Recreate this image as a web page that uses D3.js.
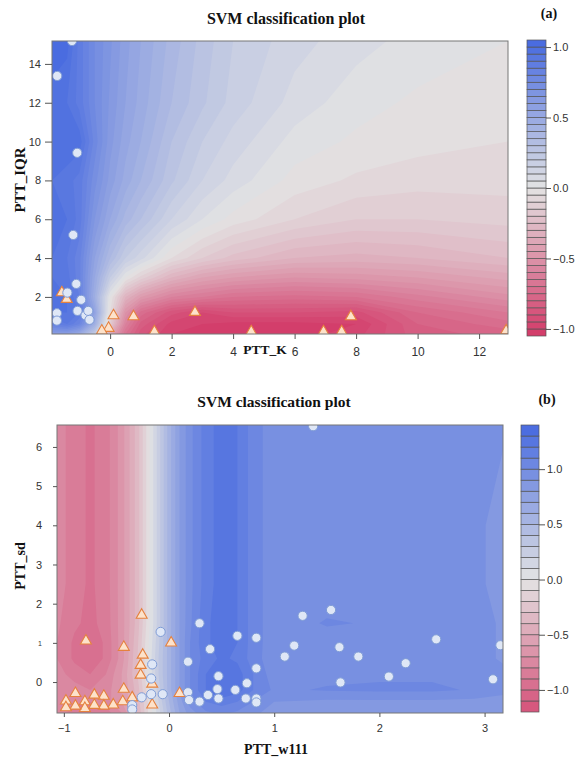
<!DOCTYPE html>
<html>
<head>
<meta charset="utf-8">
<script src="https://cdn.jsdelivr.net/npm/d3@7"></script>
<style>
  body { margin: 0; background: #fff; }
  .tick text { font-family: "Liberation Sans", Arial, sans-serif; font-size: 11px; fill: #333; }
  .tick line { stroke: #555; }
  .lab { font-family: "Liberation Serif", "Times New Roman", serif; font-weight: bold; fill: #111; }
</style>
</head>
<body>
<div id="chart"></div>
<script>
// ---------------- Panel (a): PTT_K vs PTT_IQR ----------------
// grid of decision values (rows go bottom -> top)
var gridXA = [-1.89, -1.4, -1, -0.5, 0, 0.5, 1, 2, 3, 4, 6, 8, 10, 12.94];
var gridYA = [0.09, 0.6, 1.2, 2, 3, 4, 6, 8, 10, 12, 15.18];
var fieldA = [
  [0.60, 0.60, 0.50, 0.20, -0.35, -0.70, -0.88, -1.00, -1.02, -1.03, -1.03, -0.97, -0.82, -0.78],
  [0.85, 0.90, 0.80, 0.45, -0.15, -0.60, -0.82, -0.97, -1.00, -1.02, -1.02, -1.00, -0.80, -0.72],
  [0.95, 0.95, 0.90, 0.55, -0.05, -0.50, -0.72, -0.88, -0.95, -0.90, -0.90, -0.92, -0.75, -0.65],
  [1.00, 0.95, 0.85, 0.45, 0.00, -0.30, -0.45, -0.60, -0.65, -0.70, -0.72, -0.70, -0.62, -0.52],
  [0.95, 0.92, 0.82, 0.50, 0.20, 0.00, -0.12, -0.30, -0.40, -0.45, -0.50, -0.48, -0.45, -0.38],
  [0.95, 0.90, 0.82, 0.55, 0.35, 0.20, 0.12, -0.05, -0.15, -0.22, -0.30, -0.32, -0.30, -0.25],
  [0.98, 0.95, 0.88, 0.65, 0.50, 0.38, 0.30, 0.15, 0.05, -0.02, -0.10, -0.15, -0.15, -0.13],
  [0.95, 0.92, 0.88, 0.72, 0.58, 0.48, 0.40, 0.26, 0.15, 0.08, -0.02, -0.06, -0.08, -0.08],
  [0.95, 1.00, 0.98, 0.78, 0.62, 0.52, 0.45, 0.30, 0.20, 0.13, 0.03, -0.01, -0.03, -0.05],
  [0.98, 0.95, 0.88, 0.75, 0.64, 0.55, 0.48, 0.35, 0.26, 0.18, 0.08, 0.02, -0.01, -0.03],
  [1.03, 1.02, 0.88, 0.75, 0.66, 0.57, 0.50, 0.38, 0.28, 0.20, 0.12, 0.07, 0.03, 0.00]
];
var levelsA = d3.range(-21, 22).map(d => d / 20);
var circleXA = [-1.24, -1.72, -1.07, -1.20, -1.10, -1.39, -0.94, -1.73, -1.73, -1.06, -0.80, -0.71, -0.67];
var circleYA = [15.18, 13.38, 9.42, 5.19, 2.67, 2.22, 1.85, 1.16, 0.78, 1.28, 1.05, 1.28, 0.82];
var triXA = [-1.57, -1.41, 0.11, -0.05, -0.27, 0.76, 1.44, 2.76, 4.59, 6.94, 7.53, 7.83, 12.88];
var triYA = [2.22, 1.88, 1.04, 0.39, 0.25, 0.99, 0.21, 1.21, 0.21, 0.21, 0.21, 0.99, 0.26];
var xTicksA = [0, 2, 4, 6, 8, 10, 12];
var yTicksA = [2, 4, 6, 8, 10, 12, 14];
var barTicks = [-1, -0.5, 0, 0.5, 1];

// ---------------- Panel (b): PTT_w111 vs PTT_sd ----------------
var gridXB = [-1.065, -0.9, -0.75, -0.6, -0.45, -0.3, -0.2, -0.1, 0, 0.1, 0.2, 0.35, 0.5, 0.65, 0.8, 1.0, 1.5, 2.0, 2.5, 2.9, 3.175];
var gridYB = [-0.79, -0.5, -0.2, 0.2, 0.6, 1.0, 1.5, 2.5, 4, 6.56];
var fieldB = [
  [-0.75, -0.85, -0.90, -0.85, -0.70, -0.40, -0.10, 0.15, 0.45, 0.70, 0.85, 0.98, 1.02, 0.98, 0.92, 0.86, 0.85, 0.85, 0.85, 0.85, 0.85],
  [-0.70, -0.75, -0.80, -0.75, -0.60, -0.35, -0.10, 0.20, 0.50, 0.75, 0.95, 1.10, 1.15, 1.10, 1.00, 0.90, 0.88, 0.88, 0.88, 0.87, 0.86],
  [-0.70, -0.75, -0.80, -0.75, -0.60, -0.35, -0.05, 0.25, 0.55, 0.80, 1.00, 1.20, 1.30, 1.25, 1.10, 0.98, 1.01, 1.02, 1.02, 0.99, 0.93],
  [-0.75, -0.85, -0.90, -0.80, -0.60, -0.30, -0.02, 0.30, 0.55, 0.80, 1.00, 1.20, 1.30, 1.25, 1.10, 0.94, 0.97, 0.98, 0.98, 0.96, 0.92],
  [-0.80, -0.92, -0.98, -0.88, -0.65, -0.30, 0.00, 0.30, 0.55, 0.80, 1.00, 1.15, 1.22, 1.18, 1.05, 0.93, 0.93, 0.93, 0.93, 0.93, 0.89],
  [-0.80, -0.92, -0.98, -0.88, -0.65, -0.32, -0.02, 0.28, 0.55, 0.80, 1.00, 1.18, 1.25, 1.20, 1.05, 0.94, 0.95, 0.95, 0.93, 0.93, 0.89],
  [-0.78, -0.88, -0.93, -0.86, -0.65, -0.35, -0.05, 0.25, 0.55, 0.80, 0.98, 1.18, 1.25, 1.20, 1.05, 0.94, 1.01, 0.99, 0.93, 0.93, 0.89],
  [-0.75, -0.85, -0.92, -0.85, -0.65, -0.35, -0.05, 0.25, 0.55, 0.80, 0.97, 1.15, 1.25, 1.20, 1.05, 0.94, 0.93, 0.93, 0.93, 0.92, 0.87],
  [-0.75, -0.85, -0.92, -0.85, -0.65, -0.35, -0.05, 0.25, 0.55, 0.80, 0.97, 1.15, 1.25, 1.20, 1.05, 0.94, 0.93, 0.93, 0.93, 0.92, 0.87],
  [-0.75, -0.85, -0.92, -0.85, -0.65, -0.35, -0.05, 0.25, 0.55, 0.80, 0.97, 1.15, 1.25, 1.20, 1.05, 0.94, 0.93, 0.93, 0.93, 0.93, 0.91]
];
var levelsB = d3.range(-12, 15).map(d => d / 10);
var circleXB = [-0.08, -0.16, -0.17, -0.17, -0.06, -0.26, -0.35, -0.35, 0.29, 0.65, 0.83, 0.39, 0.18, 0.83, 0.47, 0.46, 0.63, 0.74, 0.18, 0.19, 0.29, 0.37, 0.47, 0.73, 0.83, 0.83, 1.10, 1.27, 1.54, 1.19, 1.62, 1.80, 2.25, 2.54, 3.15, 1.63, 2.09, 3.08, 1.37];
var circleYB = [1.28, 0.45, 0.09, -0.31, -0.31, -0.39, -0.59, -0.70, 1.50, 1.18, 1.13, 0.84, 0.52, 0.35, 0.15, -0.18, -0.20, -0.03, -0.26, -0.46, -0.50, -0.33, -0.42, -0.42, -0.42, -0.52, 0.65, 1.69, 1.84, 0.93, 0.89, 0.65, 0.48, 1.09, 0.94, -0.01, 0.14, 0.07, 6.53];
var triXB = [-0.26, -0.79, -0.43, 0.02, -0.25, -0.27, -0.27, -0.16, -0.43, 0.10, -0.35, -0.16, -0.44, -0.53, -0.62, -0.62, -0.71, -0.71, -0.80, -0.80, -0.89, -0.89, -0.98, -0.98];
var triYB = [1.71, 1.05, 0.89, 1.00, 0.69, 0.43, 0.18, -0.05, -0.18, -0.29, -0.40, -0.58, -0.50, -0.58, -0.36, -0.61, -0.33, -0.59, -0.50, -0.67, -0.29, -0.61, -0.48, -0.65];
var xTicksB = [-1, 0, 1, 2, 3];
var yTicksB = [0, 1, 2, 3, 4, 5, 6];

// svg
var svg = d3.select("#chart").append("svg")
  .attr("width", 579)
  .attr("height", 759);

// pink -> grey -> blue ramp used by both panels
var ramp = d3.piecewise(d3.interpolateRgb, ["#d33a68", "#e3e3e3", "#4669e0"]);

function drawPanel(p) {
  var g = svg.append("g");
  var x = d3.scaleLinear().domain([p.gx[0], p.gx[p.gx.length - 1]]).range([p.left, p.right]);
  var y = d3.scaleLinear().domain([p.gy[0], p.gy[p.gy.length - 1]]).range([p.bottom, p.top]);

  // grid index -> data value (non uniform grid)
  var nx = p.gx.length, ny = p.gy.length;
  var ix = d3.scaleLinear().domain(d3.range(nx)).range(p.gx).clamp(true);
  var iy = d3.scaleLinear().domain(d3.range(ny)).range(p.gy).clamp(true);
  var path = d3.geoPath(d3.geoTransform({
    point: function(px, py) { this.stream.point(x(ix(px - 0.5)), y(iy(py - 0.5))); }
  }));

  var lv = p.levels;
  var M = d3.max(lv, d => Math.abs(d));
  var bandColor = i => ramp(((lv[i] + lv[i + 1]) / 2 + M) / (2 * M));

  var contours = d3.contours()
    .size([nx, ny])
    .thresholds(lv.slice(0, -1))(p.field.flat());

  g.append("clipPath").attr("id", "clip" + p.id)
    .append("rect")
    .attr("x", p.left).attr("y", p.top)
    .attr("width", p.right - p.left).attr("height", p.bottom - p.top);

  var plot = g.append("g").attr("clip-path", `url(#clip${p.id})`);
  plot.append("rect")
    .attr("x", p.left).attr("y", p.top)
    .attr("width", p.right - p.left).attr("height", p.bottom - p.top)
    .attr("fill", bandColor(0));
  plot.selectAll("path.band")
    .data(contours)
    .enter()
    .append("path")
    .attr("class", "band")
    .attr("d", path)
    .attr("fill", (d, i) => bandColor(i));

  // triangles then circles
  plot.selectAll("path.tri")
    .data(p.triX.map((v, i) => [v, p.triY[i]]))
    .enter()
    .append("path")
    .attr("class", "tri")
    .attr("transform", d => `translate(${x(d[0])},${y(d[1])})`)
    .attr("d", d3.symbol(d3.symbolTriangle).size(52))
    .attr("fill", "#fde2ca")
    .attr("stroke", "#e5813e")
    .attr("stroke-width", 1.1);
  plot.selectAll("circle.pt")
    .data(p.circX.map((v, i) => [v, p.circY[i]]))
    .enter()
    .append("circle")
    .attr("class", "pt")
    .attr("cx", d => x(d[0]))
    .attr("cy", d => y(d[1]))
    .attr("r", 4.6)
    .attr("fill", "#dfe7f6")
    .attr("stroke", "#7f9cd6")
    .attr("stroke-width", 1);

  // box
  g.append("rect")
    .attr("x", p.left).attr("y", p.top)
    .attr("width", p.right - p.left).attr("height", p.bottom - p.top)
    .attr("fill", "none")
    .attr("stroke", "#777");

  // axes
  g.append("g")
    .attr("transform", `translate(0,${p.bottom})`)
    .call(d3.axisBottom(x).tickValues(p.xticks).tickSize(p.xTick).tickPadding(p.xPad).tickFormat(d3.format("d")))
    .call(a => a.select(".domain").remove())
    .call(a => a.selectAll(".tick text").style("font-size", p.xFont + "px"));
  var yAx = g.append("g")
    .attr("transform", `translate(${p.left},0)`)
    .call(d3.axisLeft(y).tickValues(p.yticks).tickSize(p.yTick).tickPadding(p.yPad).tickFormat(d3.format("d")))
    .call(a => a.select(".domain").remove());
  if (p.smallOne) {
    yAx.selectAll(".tick text").filter(d => d === 1).style("font-size", "7px");
  }

  // colour bar
  var cy = d3.scaleLinear().domain([lv[0], lv[lv.length - 1]]).range([p.bar.bottom, p.bar.top]);
  g.selectAll("rect.key")
    .data(d3.range(lv.length - 1))
    .enter()
    .append("rect")
    .attr("class", "key")
    .attr("x", p.bar.left)
    .attr("width", p.bar.right - p.bar.left)
    .attr("y", i => cy(lv[i + 1]))
    .attr("height", i => cy(lv[i]) - cy(lv[i + 1]))
    .attr("fill", i => bandColor(i))
    .attr("stroke", "#555")
    .attr("stroke-width", 0.7);
  g.append("g")
    .attr("transform", `translate(${p.bar.right},0)`)
    .call(d3.axisRight(cy).tickValues(barTicks).tickSize(p.bar.tick).tickPadding(2).tickFormat(d3.format(".1f")))
    .call(a => a.select(".domain").remove());

  // texts
  g.append("text").attr("class", "lab")
    .attr("x", p.title[0]).attr("y", p.title[1])
    .attr("text-anchor", "middle")
    .style("font-size", p.title[2] + "px")
    .text("SVM classification plot");
  g.append("text").attr("class", "lab")
    .attr("x", p.tag[0]).attr("y", p.tag[1])
    .attr("text-anchor", "middle")
    .style("font-size", "14px")
    .text(p.tagText);
  g.append("text").attr("class", "lab")
    .attr("x", p.xlab[0]).attr("y", p.xlab[1])
    .attr("text-anchor", "middle")
    .style("font-size", p.xlab[2] + "px")
    .text(p.xName);
  g.append("text").attr("class", "lab")
    .attr("transform", `translate(${p.ylab[0]},${p.ylab[1]}) rotate(-90)`)
    .attr("text-anchor", "middle")
    .style("font-size", p.ylab[2] + "px")
    .text(p.yName);
}

drawPanel({
  id: "a", gx: gridXA, gy: gridYA, field: fieldA, levels: levelsA,
  circX: circleXA, circY: circleYA, triX: triXA, triY: triYA,
  xticks: xTicksA, yticks: yTicksA,
  left: 52, right: 508, top: 41, bottom: 334,
  xTick: 5, xPad: 8, xFont: 12, yTick: 7, yPad: 4,
  bar: { left: 527, right: 546, top: 40, bottom: 336, tick: 5 },
  title: [286, 24, 16], tag: [549, 18], tagText: "(a)",
  xlab: [265, 354, 13.5], xName: "PTT_K",
  ylab: [25, 180, 15], yName: "PTT_IQR"
});

drawPanel({
  id: "b", gx: gridXB, gy: gridYB, field: fieldB, levels: levelsB,
  circX: circleXB, circY: circleYB, triX: triXB, triY: triYB,
  xticks: xTicksB, yticks: yTicksB, smallOne: true,
  left: 57, right: 503, top: 425, bottom: 713,
  xTick: 4, xPad: 7, xFont: 11, yTick: 4, yPad: 11,
  bar: { left: 521, right: 539, top: 425, bottom: 712, tick: 6 },
  title: [274, 407, 15.5], tag: [547, 404], tagText: "(b)",
  xlab: [276, 754, 14], xName: "PTT_w111",
  ylab: [25, 566, 14], yName: "PTT_sd"
});
</script>
</body>
</html>
